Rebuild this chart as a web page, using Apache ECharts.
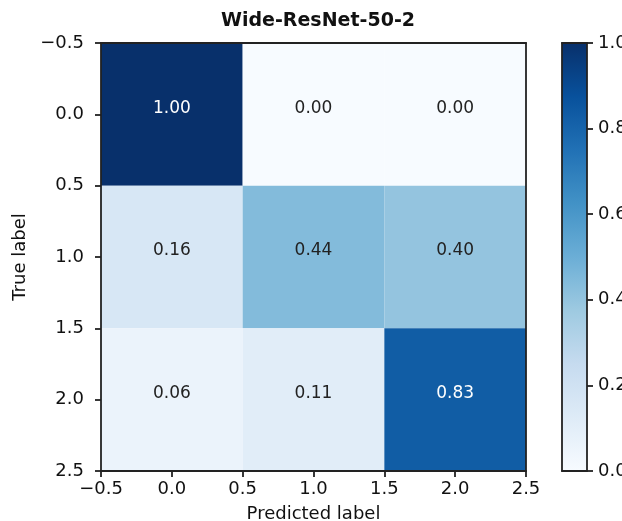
<!DOCTYPE html>
<html>
<head>
<meta charset="utf-8">
<script src="https://cdn.jsdelivr.net/npm/echarts@6/dist/echarts.min.js"></script>
<style>html,body{margin:0;padding:0;background:#fff;}#c{width:622px;height:521px;}</style>
</head>
<body>
<div id="c"></div>
<script>
var title = 'Wide-ResNet-50-2';
var xLabel = 'Predicted label';
var yLabel = 'True label';
var rowLabels = [0, 1, 2];
var colLabels = [0, 1, 2];
// confusion matrix rows (true label) x cols (predicted)
var row0 = [1.00, 0.00, 0.00];
var row1 = [0.16, 0.44, 0.40];
var row2 = [0.06, 0.11, 0.83];
var matrix = [row0, row1, row2];
var axisTicks = [-0.5, 0.0, 0.5, 1.0, 1.5, 2.0, 2.5];
var cbarTicks = [0.0, 0.2, 0.4, 0.6, 0.8, 1.0];

var blues = ['#f7fbff','#deebf7','#c6dbef','#9ecae1','#6baed6','#4292c6','#2171b5','#08519c','#08306b'];

var cells = [];
matrix.forEach(function (r, i) {
  r.forEach(function (v, j) { cells.push([colLabels[j], rowLabels[i], v]); });
});

var font = 'DejaVu Sans';
var ink = '#111';
var spine = { show: true, onZero: false, lineStyle: { color: '#222', width: 1.8 } };
var tick = { length: 6, lineStyle: { color: '#222', width: 1.8 } };
function fmt(v) { return (v < 0 ? '\u2212' : '') + Math.abs(v).toFixed(1); }
function spineAxis(extra) {
  var a = { type: 'value', z: 10, axisLine: spine, axisTick: { show: false },
    axisLabel: { show: false }, splitLine: { show: false } };
  for (var k in extra) a[k] = extra[k];
  return a;
}
var chart = echarts.init(document.getElementById('c'));
chart.setOption({
  animation: false,
  title: { text: title, left: 313, top: 7, textAlign: 'center',
    textStyle: { fontFamily: font, fontSize: 19, fontWeight: 'bold', color: ink } },
  grid: [
    { left: 101, top: 43, width: 425, height: 428, outerBoundsMode: 'none', containLabel: false },
    { left: 562, top: 43, width: 25, height: 428, outerBoundsMode: 'none', containLabel: false }
  ],
  visualMap: { show: false, min: 0, max: 1, seriesIndex: 0, dimension: 2, inRange: { color: blues } },
  xAxis: [
    { type: 'value', gridIndex: 0, z: 10, min: -0.5, max: 2.5, interval: 0.5, splitLine: { show: false },
      name: xLabel, nameLocation: 'middle', nameGap: 34,
      nameTextStyle: { fontFamily: font, fontSize: 18, color: ink },
      axisLine: spine, axisTick: tick,
      axisLabel: { fontFamily: font, fontSize: 18, color: ink, margin: 9, formatter: fmt } },
    spineAxis({ gridIndex: 0, position: 'top', min: -0.5, max: 2.5 }),
    spineAxis({ gridIndex: 1, min: 0, max: 1 }),
    spineAxis({ gridIndex: 1, min: 0, max: 1, position: 'top' })
  ],
  yAxis: [
    { type: 'value', gridIndex: 0, z: 10, min: -0.5, max: 2.5, interval: 0.5, inverse: true, splitLine: { show: false },
      name: yLabel, nameLocation: 'middle', nameGap: 69, nameRotate: 90,
      nameTextStyle: { fontFamily: font, fontSize: 18, color: ink },
      axisLine: spine, axisTick: tick,
      axisLabel: { fontFamily: font, fontSize: 18, color: ink, margin: 17, formatter: fmt } },
    spineAxis({ gridIndex: 0, position: 'right', inverse: true, min: -0.5, max: 2.5 }),
    { type: 'value', gridIndex: 1, z: 10, min: 0, max: 1, interval: 0.2, position: 'right', splitLine: { show: false },
      axisLine: spine, axisTick: tick,
      axisLabel: { fontFamily: font, fontSize: 18, color: ink, margin: 11,
        formatter: function (v) { return v.toFixed(1); } } },
    spineAxis({ gridIndex: 1, min: 0, max: 1, position: 'left' })
  ],
  series: [
    { type: 'custom', xAxisIndex: 0, yAxisIndex: 0, data: cells,
      encode: { x: 0, y: 1 },
      renderItem: function (params, api) {
        var x = api.value(0), y = api.value(1), v = api.value(2);
        var p1 = api.coord([x - 0.5, y - 0.5]);
        var p2 = api.coord([x + 0.5, y + 0.5]);
        var c = api.coord([x, y]);
        return { type: 'group', children: [
          { type: 'rect', shape: { x: Math.min(p1[0], p2[0]), y: Math.min(p1[1], p2[1]),
              width: Math.abs(p2[0] - p1[0]), height: Math.abs(p2[1] - p1[1]) },
            style: { fill: api.visual('color') } },
          { type: 'text', x: c[0], y: c[1] - 6,
            style: { text: v.toFixed(2), fill: v > 0.5 ? '#fff' : '#222', font: '17px "DejaVu Sans"',
              textAlign: 'center', textVerticalAlign: 'middle' } }
        ] };
      } },
    { type: 'custom', xAxisIndex: 2, yAxisIndex: 2, data: [[0, 0]],
      renderItem: function (params, api) {
        var p1 = api.coord([0, 1]);
        var p2 = api.coord([1, 0]);
        var stops = blues.map(function (col, k) { return { offset: k / (blues.length - 1), color: col }; });
        return { type: 'rect', shape: { x: p1[0], y: p1[1], width: p2[0] - p1[0], height: p2[1] - p1[1] },
          style: { fill: new echarts.graphic.LinearGradient(0, 1, 0, 0, stops) } };
      } }
  ]
});
</script>
</body>
</html>
